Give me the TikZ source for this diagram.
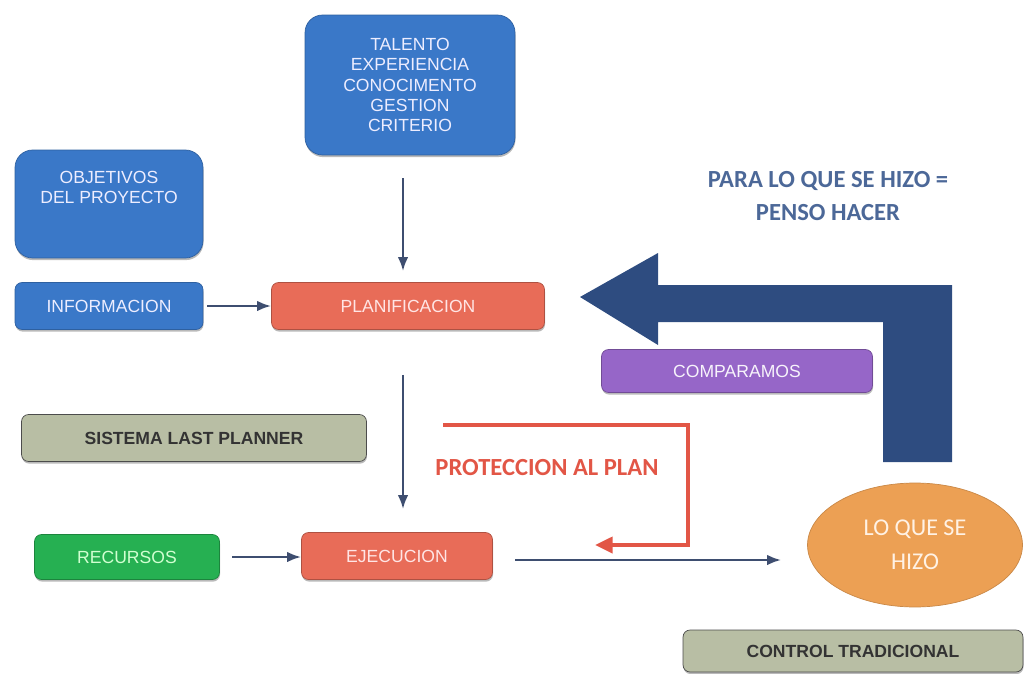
\documentclass[tikz,border=0pt]{standalone}
\usepackage{fontspec}
\setmainfont{Liberation Sans}
\newfontfamily\calib{Carlito}
\usetikzlibrary{arrows.meta,shapes.geometric,shadows}

\definecolor{boxblue}{RGB}{58,120,200}
\definecolor{salmon}{RGB}{232,108,88}
\definecolor{sage}{RGB}{184,190,164}
\definecolor{leaf}{RGB}{38,176,82}
\definecolor{lilac}{RGB}{150,102,200}
\definecolor{peach}{RGB}{236,160,84}
\definecolor{navy}{RGB}{46,76,128}
\definecolor{slate}{RGB}{62,78,112}
\definecolor{brick}{RGB}{226,86,70}
\definecolor{steel}{RGB}{76,104,152}

\tikzset{
  box/.style={rectangle,rounded corners=4pt,inner sep=0pt,align=center,
    font=\fontsize{10}{11.5}\selectfont,
    drop shadow={shadow xshift=0.3pt,shadow yshift=-1.2pt,opacity=.55}},
  bluebox/.style={box,fill=boxblue,draw=boxblue!80!black,text=white!93!blue},
  redbox/.style={box,fill=salmon,draw=salmon!75!black,text=white!90!red},
  sagebox/.style={box,fill=sage,draw=black!70,text=black!80,font=\fontsize{10}{12}\selectfont\bfseries},
  arr/.style={->,>={Latex[length=8pt,width=6pt]},draw=slate,line width=1.4pt}
}

\begin{document}
\begin{tikzpicture}[x=0.02cm,y=-0.02cm]
\useasboundingbox (0,0) rectangle (1024,673);

\node[bluebox,rounded corners=10pt,minimum width=4.2cm,minimum height=2.8cm] (talento) at (410,85)
  {TALENTO\\EXPERIENCIA\\CONOCIMENTO\\GESTION\\CRITERIO};
\node[bluebox,rounded corners=10pt,minimum width=3.76cm,minimum height=2.16cm] (objetivos) at (109,204) {};
\node[text=white!93!blue,align=center,font=\fontsize{10}{11.5}\selectfont,anchor=north] (objtxt)
  at ([yshift=-0.3cm]objetivos.north) {OBJETIVOS\\DEL PROYECTO};
\node[bluebox,minimum width=3.76cm,minimum height=0.94cm] (info) at (109,306) {INFORMACION};
\node[redbox,minimum width=5.46cm,minimum height=0.94cm] (planif) at (408,306) {PLANIFICACION};
\node[sagebox,minimum width=6.9cm,minimum height=0.94cm] (sistema) at (194,438) {SISTEMA LAST PLANNER};
\node[box,fill=leaf,draw=leaf!75!black,text=white!82!green,minimum width=3.7cm,minimum height=0.9cm] (recursos) at (127,557) {RECURSOS};
\node[redbox,minimum width=3.82cm,minimum height=0.94cm] (ejec) at (397,556) {EJECUCION};
\node[box,fill=lilac,draw=lilac!75!black,text=white!92!lilac,minimum width=5.42cm,minimum height=0.86cm] (compara) at (737,371) {COMPARAMOS};
\node[ellipse,fill=peach,draw=peach!85!black,text=white!90!orange,inner sep=0pt,align=center,
  minimum width=4.3cm,minimum height=2.48cm,font=\calib\fontsize{13.7}{19.5}\selectfont] (hizo) at (915,545) {LO QUE SE\\HIZO};
\node[sagebox,minimum width=6.8cm,minimum height=0.84cm] (control) at (853,651) {CONTROL TRADICIONAL};

\node[text=steel,align=center,font=\calib\bfseries\fontsize{14}{19}\selectfont] (para) at (828,196)
  {PARA LO QUE SE HIZO =\\PENSO HACER};
\node[text=brick,font=\calib\bfseries\fontsize{14}{15}\selectfont] (protec) at (547,468) {PROTECCION AL PLAN};

\fill[navy] (580,297) -- (658,253) -- (658,285) -- (952,285) -- (952,462) -- (883,462)
  -- (883,322) -- (658,322) -- (658,345) -- cycle;

\draw[arr,shorten <=0.46cm,shorten >=0.22cm] ([xshift=-0.14cm]talento.south) -- ([xshift=-0.14cm]talento.south |- planif.north);
\draw[arr,shorten <=0.08cm] (info.east) -- (planif.west);
\draw[arr,shorten <=0.9cm,shorten >=0.46cm] ([xshift=-0.1cm]planif.south) -- ([xshift=-0.1cm]planif.south |- ejec.north);
\draw[arr,shorten <=0.25cm] (recursos.east) -- (recursos.east -| ejec.west);
\draw[arr,shorten <=0.45cm,shorten >=0.52cm] ([yshift=-0.08cm]ejec.east) -- ([yshift=-0.08cm]ejec.east -| hizo.west);

\coordinate (p1) at (443,425);
\coordinate (p2) at (595,545);
\draw[brick,line width=2.3pt,->,>={Triangle[length=10pt,width=9pt]}] (p1) -- (688,425) -- (688,545) -- (p2);
\end{tikzpicture}
\end{document}
